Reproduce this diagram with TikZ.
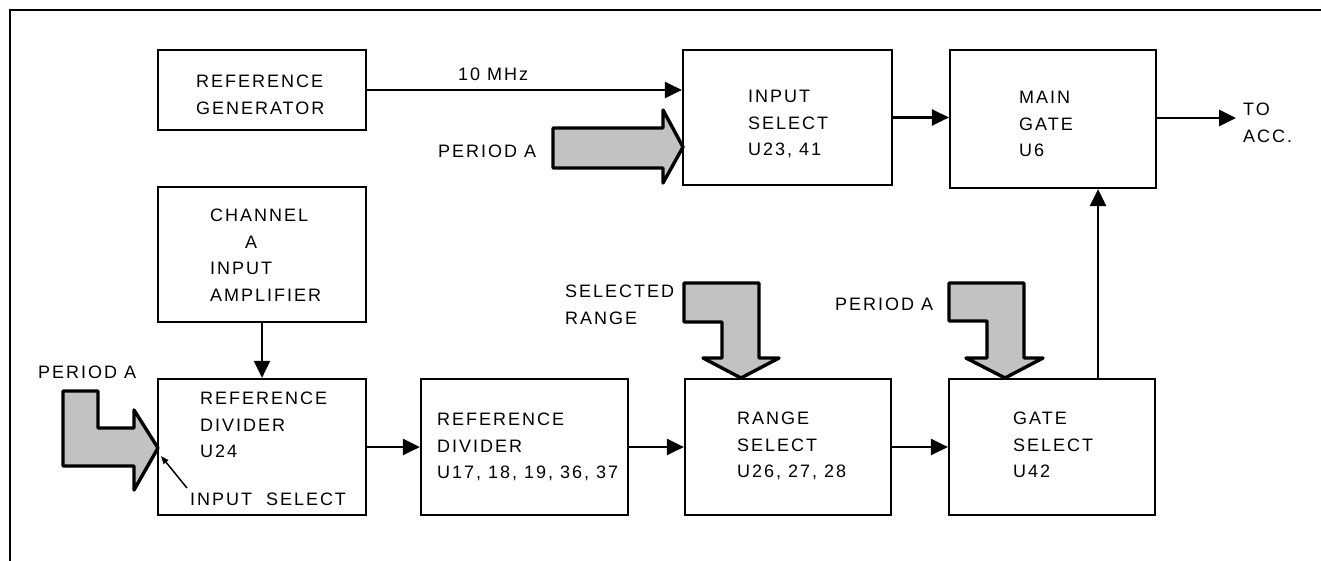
\documentclass[tikz,border=0pt]{standalone}
\usepackage{fontspec}
\setmainfont{Liberation Sans}[LetterSpace=11]
\usetikzlibrary{arrows.meta}
\begin{document}
\begin{tikzpicture}[x=1pt,y=-1pt,
  box/.style={draw, line width=2.2pt, inner sep=0pt},
  txt/.style={anchor=north west, inner sep=0pt, align=left, font=\fontsize{18}{26.5}\selectfont},
  conn/.style={line width=2.8pt, -{Triangle[length=17pt,width=16pt]}},
  fat/.style={draw, line width=3.4pt, fill=black!24, line join=round},
  frame/.style={line width=2.4pt}]
\useasboundingbox (0,0) rectangle (1321,561);
% frame
\draw[frame] (1321,10) -- (10,10) -- (10,561);
% boxes
\node[box, minimum width=208pt, minimum height=80pt]  (refgen)   at (262,90) {};
\node[box, minimum width=209pt, minimum height=135pt] (insel)    at (787.5,117.5) {};
\node[box, minimum width=206pt, minimum height=138pt] (maingate) at (1053,119) {};
\node[box, minimum width=208pt, minimum height=135pt] (chanA)    at (262,254.5) {};
\node[box, minimum width=208pt, minimum height=136pt] (refdivA)  at (262,447) {};
\node[box, minimum width=207pt, minimum height=136pt] (refdivB)  at (524.5,447) {};
\node[box, minimum width=206pt, minimum height=136pt] (rangesel) at (788,447) {};
\node[box, minimum width=206pt, minimum height=136pt] (gatesel)  at (1052,447) {};
% texts
\node[txt] (trefgen) at (196,75) {REFERENCE\\GENERATOR};
\node[txt] (tmhz) at (458,68) {10 MHz};
\node[txt] (tinsel) at (748,90) {INPUT\\SELECT\\U23, 41};
\node[txt] (tpa1) at (438,145) {PERIOD A};
\node[txt] (tmain) at (1019,91) {MAIN\\GATE\\U6};
\node[txt] (tacc) at (1243,103) {TO\\ACC.};
\node[txt] (tchan) at (210,209) {CHANNEL\\\hspace*{35pt}A\\INPUT\\AMPLIFIER};
\node[txt] (trefA) at (200,392) {REFERENCE\\DIVIDER\\U24};
\node[txt] (tinsmall) at (190,493) {INPUT\ \ SELECT};
\node[txt] (tpa2) at (38,366) {PERIOD A};
\node[txt] (trefB) at (437,413) {REFERENCE\\DIVIDER\\U17, 18, 19, 36, 37};
\node[txt] (trange) at (737,412) {RANGE\\SELECT\\U26, 27, 28};
\node[txt] (tgate) at (1013,412) {GATE\\SELECT\\U42};
\node[txt] (tsel) at (565,285) {SELECTED\\RANGE};
\node[txt] (tpa3) at (835,298) {PERIOD A};
% connectors
\draw[conn] (refgen.east) -- (refgen.east -| insel.west);
\draw[conn] (insel.east) -- (insel.east -| maingate.west);
\coordinate (accend) at (1236,118);
\draw[conn] (maingate.east |- accend) -- (accend);
\draw[conn] (chanA.south) -- (refdivA.north);
\draw[conn] (refdivA.east) -- (refdivB.west);
\draw[conn] (refdivB.east) -- (rangesel.west);
\draw[conn] (rangesel.east) -- (gatesel.west);
\draw[conn] ([xshift=46pt]gatesel.north) -- ([xshift=46pt]gatesel.north |- maingate.south);
\coordinate (isTail) at (187,488);
\coordinate (isHead) at (161,456);
\draw[line width=1.5pt, -{Triangle[length=8pt,width=6pt]}] (isTail) -- (isHead);
% fat arrows
\draw[fat] (553,128) -- (663,128) -- (663,110) -- (683,147) -- (663,183) -- (663,168) -- (553,168) -- cycle;
\draw[fat] (63,391) -- (98,391) -- (98,428) -- (134,428) -- (134,410) -- (158,448) -- (134,490) -- (134,466) -- (63,466) -- cycle;
\draw[fat] (684,283) -- (759,283) -- (759,358) -- (779,358) -- (741,378) -- (703,358) -- (722,358) -- (722,322) -- (684,322) -- cycle;
\draw[fat] (949,283) -- (1024,283) -- (1024,358) -- (1043,358) -- (1005,378) -- (966,358) -- (987,358) -- (987,321) -- (949,321) -- cycle;
\end{tikzpicture}
\end{document}
